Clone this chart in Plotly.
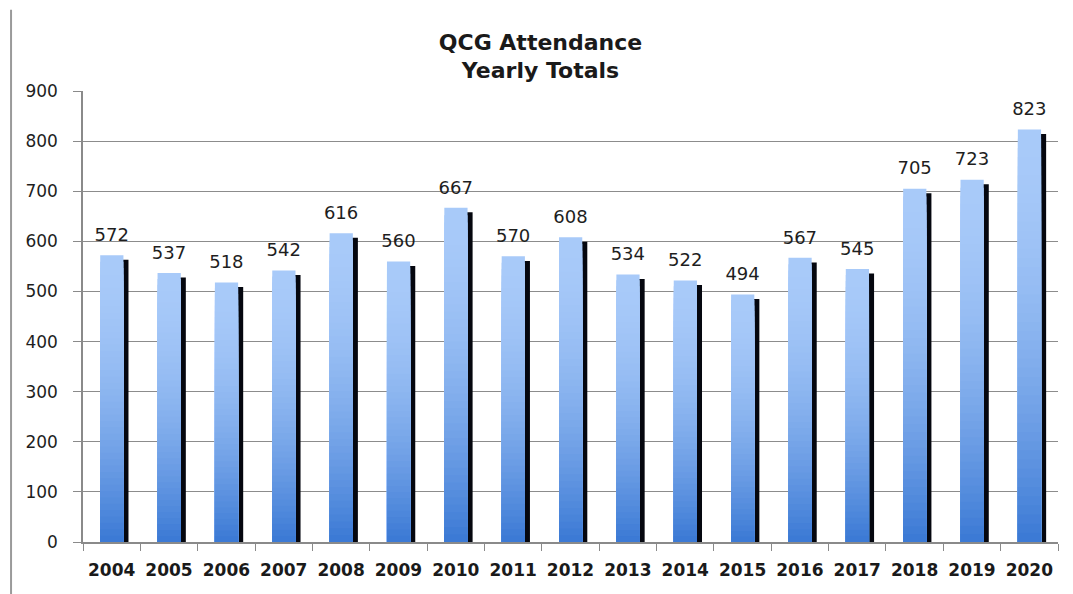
import plotly.graph_objects as go

years = ["2004", "2005", "2006", "2007", "2008", "2009", "2010", "2011", "2012",
         "2013", "2014", "2015", "2016", "2017", "2018", "2019", "2020"]
attendance = [572, 537, 518, 542, 616, 560, 667, 570, 608,
              534, 522, 494, 567, 545, 705, 723, 823]
y_ticks = [0, 100, 200, 300, 400, 500, 600, 700, 800, 900]

TOP_RGB = (168, 202, 249)
BOT_RGB = (60, 122, 213)
N_BANDS = 45
SHADOW_DROP = 9

fig = go.Figure()

# shadow bars (drawn behind)
fig.add_trace(go.Bar(
    x=years, y=[v - SHADOW_DROP for v in attendance],
    offset=-0.1, width=0.393,
    marker=dict(color="#05070f", line=dict(width=0)),
    hoverinfo="skip", showlegend=False,
))

# gradient bars: overlaid bands, light at top, dark at bottom
for k in range(N_BANDS):
    t = (k / (N_BANDS - 1)) ** 1.8
    r = round(TOP_RGB[0] + (BOT_RGB[0] - TOP_RGB[0]) * t)
    g = round(TOP_RGB[1] + (BOT_RGB[1] - TOP_RGB[1]) * t)
    b = round(TOP_RGB[2] + (BOT_RGB[2] - TOP_RGB[2]) * t)
    frac = (N_BANDS - k) / N_BANDS
    fig.add_trace(go.Bar(
        x=years, y=[v * frac for v in attendance],
        offset=-0.2, width=0.405,
        marker=dict(color=f"rgb({r},{g},{b})", line=dict(width=0)),
        hoverinfo="skip", showlegend=False,
    ))

# value labels
fig.add_trace(go.Scatter(
    x=years, y=attendance, mode="markers+text",
    text=[str(v) for v in attendance], textposition="top center",
    marker=dict(size=14, opacity=0),
    textfont=dict(family="DejaVu Sans", size=18, color="#1e1e1e"),
    cliponaxis=False, hoverinfo="skip", showlegend=False,
))

fig.update_layout(
    width=1065, height=586,
    margin=dict(l=75, r=15, t=83, b=52, autoexpand=False),
    paper_bgcolor="white", plot_bgcolor="white",
    barmode="overlay",
    title=dict(
        text="<b>QCG Attendance</b><br><b>Yearly Totals</b>",
        x=0.5, xanchor="center", y=0.929, yanchor="top",
        font=dict(family="DejaVu Sans", size=22, color="#1a1a1a"),
    ),
    showlegend=False,
    shapes=[dict(type="line", xref="paper", yref="paper",
                 x0=-0.0738, x1=-0.0738, y0=1.18, y1=-0.12,
                 line=dict(color="#9a9a9a", width=2))],
)

fig.update_xaxes(
    type="category", range=[-0.5, len(years) - 0.5],
    showline=True, linecolor="#8a8a8a", linewidth=1.5,
    ticks="outside", tickson="boundaries", ticklen=7, tickcolor="#8a8a8a",
    tickangle=0, automargin=False, ticklabelstandoff=12,
    tickfont=dict(family="DejaVu Sans", size=17, color="#1a1a1a", weight="bold"),
    showgrid=False,
)
fig.update_yaxes(
    range=[0, 900], tickvals=y_ticks, showline=True, linecolor="#8a8a8a", linewidth=1.5,
    ticks="outside", ticklen=8, tickcolor="#8a8a8a", automargin=False,
    gridcolor="#8c8c8c", gridwidth=1, zeroline=False,
    tickfont=dict(family="DejaVu Sans", size=17, color="#1e1e1e"),
    ticklabelstandoff=12,
)

fig.write_html("out.html")
